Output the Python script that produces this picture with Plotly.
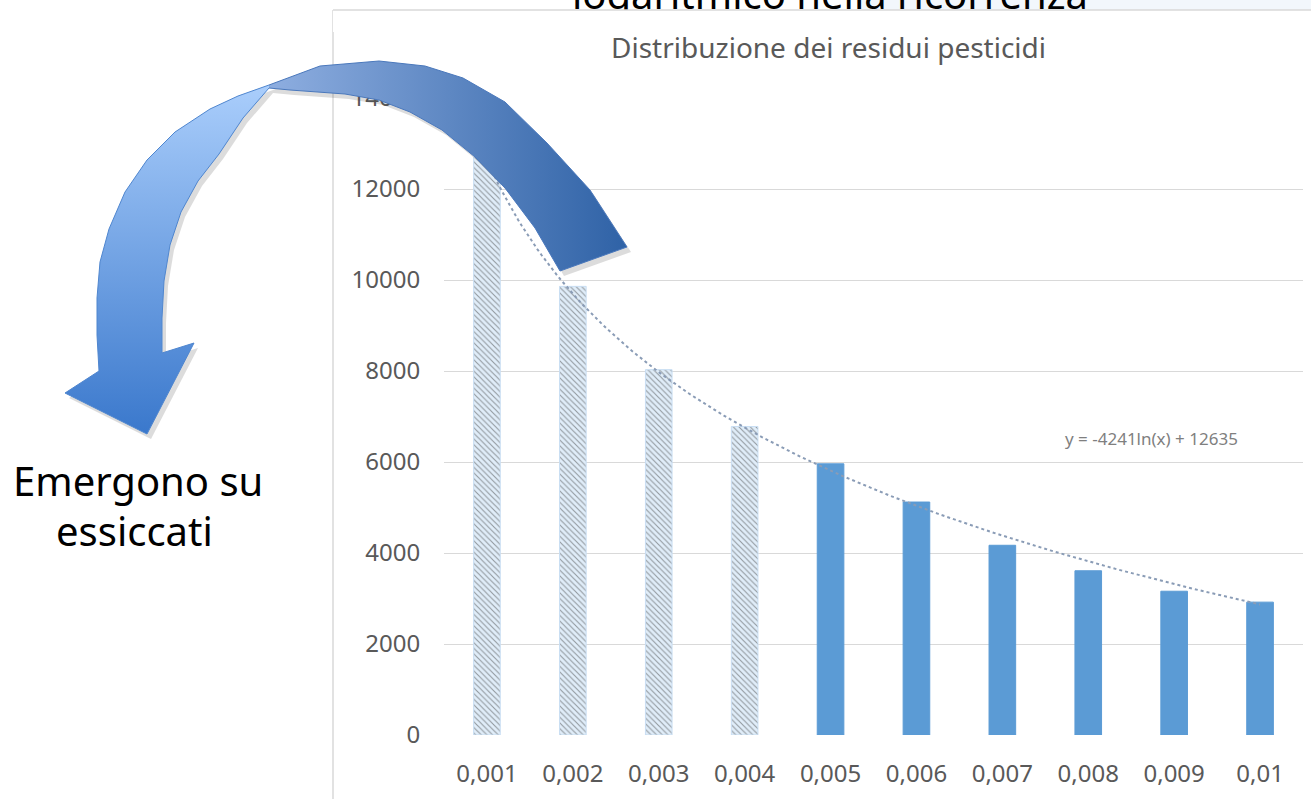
import numpy as np
import plotly.graph_objects as go

# ---------------- data ----------------
categories = ["0,001", "0,002", "0,003", "0,004", "0,005",
              "0,006", "0,007", "0,008", "0,009", "0,01"]
residui = [12700, 9860, 8030, 6780, 5960, 5120, 4170, 3610, 3160, 2920]
hatched = [True, True, True, True, False, False, False, False, False, False]
y_ticks = [0, 2000, 4000, 6000, 8000, 10000, 12000, 14000]
y_tick_labels = [str(v) for v in y_ticks]
trend_a = -4241
trend_b = 12635
trend_label = "y = -4241ln(x) + 12635"
title_text = "Distribuzione dei residui pesticidi"
top_text = "logaritmico nella ricorrenza"
side_text_1 = "Emergono su"
side_text_2 = "essiccati"

W, H = 1311, 799
FONT = "Noto Sans"

xpos = list(range(1, len(categories) + 1))
bar_colors = ["#e0edf9" if h else "#5b9bd5" for h in hatched]
line_colors = ["#c9def3" if h else "#5b9bd5" for h in hatched]
pat_shapes = ["\\" if h else "" for h in hatched]

fig = go.Figure()

fig.add_trace(go.Bar(
    x=xpos, y=residui, width=0.31,
    marker=dict(color=bar_colors,
                line=dict(color=line_colors, width=1),
                pattern=dict(shape=pat_shapes, fgcolor="#a3b1c2",
                             size=4, solidity=0.28)),
    hoverinfo="skip", showlegend=False, xaxis="x", yaxis="y"))

# logarithmic trendline from the chart's equation
tx = np.linspace(xpos[0], xpos[-1], 200)
ty = trend_a * np.log(tx) + trend_b
fig.add_trace(go.Scatter(
    x=tx, y=ty, mode="lines",
    line=dict(color="#8a9cb6", width=2, dash="dot"),
    hoverinfo="skip", showlegend=False, xaxis="x", yaxis="y"))

# ---------------- slide text cut off at the top (pixel overlay) ----------------
fig.add_trace(go.Scatter(
    x=[830], y=[19], mode="text", text=[top_text],
    textposition="top center", cliponaxis=False,
    textfont=dict(family=FONT, size=40, color="#000000"),
    hoverinfo="skip", showlegend=False, xaxis="x2", yaxis="y2"))

# ---------------- decorative curved arrow (pixel overlay) ----------------
right_arm = [(269, 85), (320, 66), (379, 61), (425, 66), (463, 78), (505, 102),
             (547, 143), (590, 190), (627, 247), (560, 271), (535, 228),
             (505, 188), (475, 157), (442, 130), (410, 112), (379, 100),
             (345, 94), (316, 92), (290, 90), (269, 88)]
left_arm = [(269, 85), (238, 96), (210, 109), (175, 132), (147, 160),
            (125, 192), (109, 229), (100, 262), (97, 298), (97, 335),
            (99, 371), (65, 393), (147, 434), (194, 343), (162, 353),
            (162, 318), (164, 281), (170, 245), (181, 212), (198, 181),
            (219, 154), (243, 118), (269, 88)]

def xy(pts, dx=0, dy=0):
    return [p[0] + dx for p in pts], [p[1] + dy for p in pts]

for pts in (left_arm, right_arm):
    sx, sy = xy(pts, 4, 5)
    fig.add_trace(go.Scatter(x=sx, y=sy, mode="lines", fill="toself",
                             fillcolor="rgba(60,60,60,0.18)",
                             line=dict(width=0, color="rgba(0,0,0,0)"),
                             hoverinfo="skip", showlegend=False,
                             xaxis="x2", yaxis="y2"))

rx, ry = xy(right_arm)
fig.add_trace(go.Scatter(
    x=rx, y=ry, mode="lines", fill="toself",
    fillgradient=dict(type="horizontal", start=269, stop=627,
                      colorscale=[[0, "#8eaee0"], [1, "#2f62a6"]]),
    line=dict(width=1, color="#4a78bc"),
    hoverinfo="skip", showlegend=False, xaxis="x2", yaxis="y2"))

lx, ly = xy(left_arm)
fig.add_trace(go.Scatter(
    x=lx, y=ly, mode="lines", fill="toself",
    fillgradient=dict(type="vertical", start=88, stop=434,
                      colorscale=[[0, "#a9cdfb"], [1, "#3a78cc"]]),
    line=dict(width=1, color="#4f86cf"),
    hoverinfo="skip", showlegend=False, xaxis="x2", yaxis="y2"))

# ---------------- layout ----------------
x0, x1 = 444 / W, 1303 / W
y0, y1 = 1 - 735 / H, 1 - 98 / H

tickfont = dict(family=FONT, size=24, color="#595959")

fig.update_layout(
    width=W, height=H, autosize=False,
    margin=dict(l=0, r=0, t=0, b=0, pad=0, autoexpand=False),
    paper_bgcolor="white", plot_bgcolor="rgba(0,0,0,0)",
    xaxis=dict(domain=[x0, x1], range=[0.5, 10.5], tickvals=xpos,
               ticktext=categories, showgrid=False, zeroline=False,
               showline=False, ticks="outside", ticklen=17,
               tickcolor="rgba(0,0,0,0)", tickfont=tickfont,
               fixedrange=True, anchor="y", automargin=False),
    yaxis=dict(domain=[y0, y1], range=[0, 14000], tickvals=y_ticks,
               ticktext=y_tick_labels, showgrid=True, gridcolor="#d9d9d9",
               gridwidth=1, zeroline=False, showline=False, ticks="outside",
               ticklen=18, tickcolor="rgba(0,0,0,0)", tickfont=tickfont,
               fixedrange=True, anchor="x", automargin=False),
    xaxis2=dict(domain=[0, 1], range=[0, W], visible=False,
                fixedrange=True, anchor="y2", automargin=False),
    yaxis2=dict(domain=[0, 1], range=[H, 0], visible=False,
                fixedrange=True, anchor="x2", automargin=False),
    shapes=[
        dict(type="rect", xref="x2", yref="y2", x0=857, x1=W, y0=0, y1=10,
             fillcolor="#f2f7fc", line=dict(width=0), layer="below"),
        # white chart area hiding the lower part of the slide text
        dict(type="rect", xref="x2", yref="y2", x0=333, x1=W, y0=10, y1=32,
             fillcolor="white", line=dict(width=0), layer="above"),
        dict(type="line", xref="x2", yref="y2", x0=333, x1=W, y0=10, y1=10,
             line=dict(color="#d9d9d9", width=1.5), layer="above"),
        dict(type="line", xref="x2", yref="y2", x0=333, x1=333, y0=10, y1=H,
             line=dict(color="#d9d9d9", width=1.5), layer="below"),
    ],
    annotations=[
        dict(xref="x2", yref="y2", x=828, y=47, text=title_text,
             showarrow=False, xanchor="center", yanchor="middle",
             font=dict(family=FONT, size=28, color="#595959")),
        dict(xref="x2", yref="y2", x=1151, y=438, text=trend_label,
             showarrow=False, xanchor="center", yanchor="middle",
             font=dict(family=FONT, size=17, color="#7f7f7f")),
        dict(xref="x2", yref="y2", x=138, y=480, text=side_text_1,
             showarrow=False, xanchor="center", yanchor="middle",
             font=dict(family=FONT, size=40, color="#000000")),
        dict(xref="x2", yref="y2", x=134, y=530, text=side_text_2,
             showarrow=False, xanchor="center", yanchor="middle",
             font=dict(family=FONT, size=40, color="#000000")),
    ],
)

fig.write_html("out.html", config={"displayModeBar": False},
               post_script="document.body.style.margin='0';"
                           "document.body.style.overflow='hidden';")
